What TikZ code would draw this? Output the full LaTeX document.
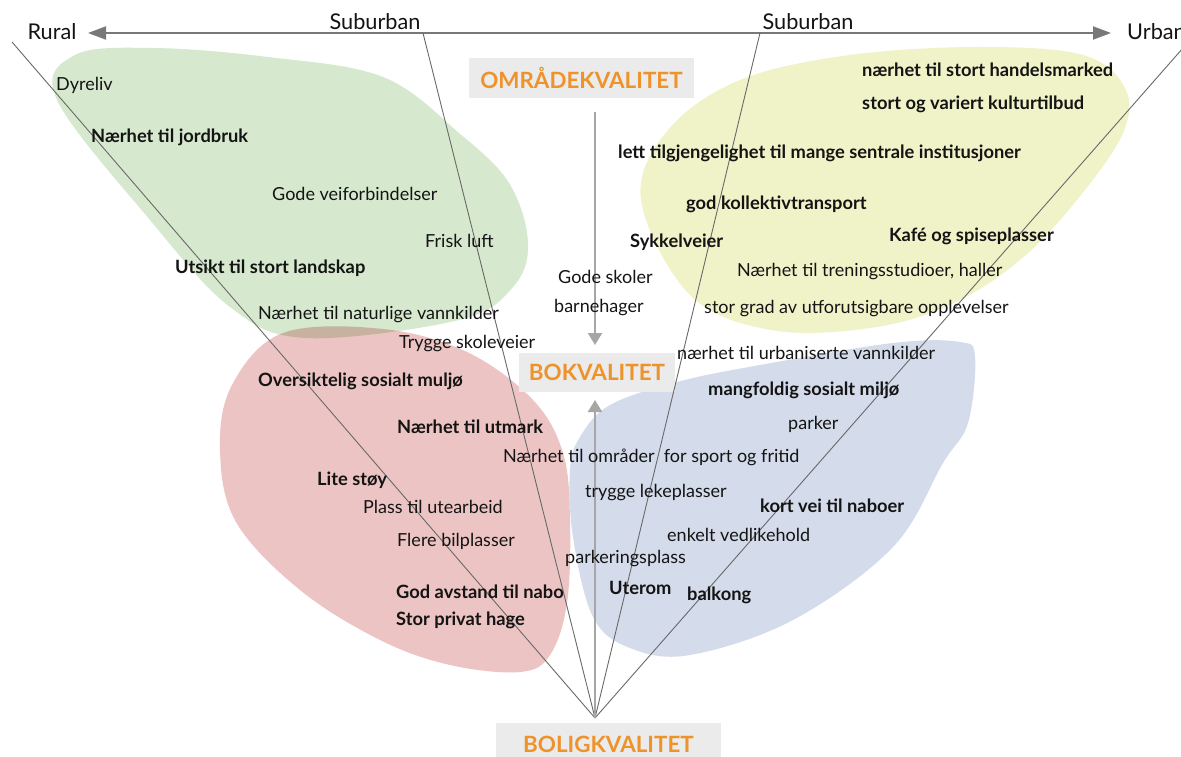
\documentclass[tikz,border=0pt]{standalone}
\usepackage{fontspec}
\setmainfont{Lato}
\usetikzlibrary{arrows.meta}
\definecolor{gblob}{RGB}{214,232,206}
\definecolor{yblob}{RGB}{240,243,200}
\definecolor{rblob}{RGB}{237,196,196}
\definecolor{bblob}{RGB}{212,219,234}
\definecolor{orangetxt}{RGB}{238,146,42}
\definecolor{boxgray}{RGB}{235,235,235}
\definecolor{txt}{RGB}{20,20,20}
\tikzset{
  lbl/.style={anchor=west, inner sep=0pt, text=txt, font=\fontsize{18}{21}\selectfont},
  blbl/.style={lbl, font=\fontsize{18.3}{21}\selectfont\bfseries},
  axlbl/.style={inner sep=0pt, text=txt, font=\fontsize{21.7}{24}\selectfont},
  headbox/.style={fill=boxgray, text=orangetxt, inner sep=0pt, font=\fontsize{22.4}{24}\selectfont\bfseries},
  thinline/.style={draw={rgb,255:red,105;green,105;blue,105}, line width=0.9pt},
  axisline/.style={draw={rgb,255:red,120;green,120;blue,120}, line width=2pt, {Triangle[length=18pt,width=13pt]}-{Triangle[length=18pt,width=13pt]}},
  grayarrow/.style={draw={rgb,255:red,166;green,166;blue,166}, line width=2pt, -{Triangle[length=12pt,width=14pt]}}
}
\begin{document}
\begin{tikzpicture}[x=1pt,y=-1pt]
\useasboundingbox (0,0) rectangle (1181,757);
\clip (0,0) rectangle (1181,757);
\fill[white] (0,0) rectangle (1181,757);
% blobs
\begin{scope}[blend mode=multiply]
\fill[gblob] plot[smooth cycle, tension=0.6] coordinates {(57,100) (75,55) (153,48) (268,57) (383,77) (459,133) (509,183) (528,243) (513,287) (459,320) (306,338) (230,307) (150,220)};
\fill[yblob] plot[smooth cycle, tension=0.6] coordinates {(641,200) (668,130) (740,80) (850,55) (980,47) (1083,55) (1125,88) (1123,133) (1077,200) (1020,260) (950,305) (870,328) (771,330) (690,295)};
\fill[rblob] plot[smooth cycle, tension=0.6] coordinates {(283,333) (383,329) (467,352) (533,400) (563,453) (570,520) (567,603) (550,655) (520,672) (450,665) (380,640) (300,590) (236,522) (220,450) (232,385)};
\fill[bblob] plot[smooth cycle, tension=0.6] coordinates {(580,437) (610,405) (677,382) (760,365) (893,343) (960,342) (975,357) (968,423) (943,463) (893,547) (793,620) (690,655) (630,648) (593,617) (573,537) (570,470)};
\end{scope}
% boxes
\node[headbox, minimum width=225pt, minimum height=40pt] (omr) at (581.5,78) {OMRÅDEKVALITET};
\node[headbox, minimum width=156pt, minimum height=39pt] (bok) at (597,372.5) {BOKVALITET};
\node[headbox, minimum width=225pt, minimum height=42pt] (bolig) at (608.5,744) {BOLIGKVALITET};
% axis
\node[axlbl] (rural) at (52,32) {Rural};
\node[axlbl, anchor=west] (urban) at (1127,32) {Urban};
\node[axlbl] (sub1) at (375,22) {Suburban};
\node[axlbl] (sub2) at (808,22) {Suburban};
\coordinate (axL) at (88,33);
\coordinate (axR) at (1111,33);
\draw[axisline] (axR) -- (axL);
% fan lines
\coordinate (apex) at (595,718);
\coordinate (endR) at (12,42);
\coordinate (endS1) at (423,33);
\coordinate (endS2) at (760,33);
\coordinate (endU) at (1190,40);
\draw[thinline] (apex) -- (endR);
\draw[thinline] (apex) -- (endS1);
\draw[thinline] (apex) -- (endS2);
\draw[thinline] (apex) -- (endU);
% vertical arrows
\coordinate (omrStart) at (595,112);
\coordinate (bokTop) at (595,345);
\coordinate (bokBot) at (595,400);
\draw[grayarrow] (omrStart) -- (bokTop);
\draw[grayarrow] (apex) -- (bokBot);
% green labels
\node[lbl] (t1) at (56,85) {Dyreliv};
\node[blbl] (t2) at (91,137) {Nærhet til jordbruk};
\node[lbl] (t3) at (272,194) {Gode veiforbindelser};
\node[lbl] (t4) at (425,241) {Frisk luft};
\node[blbl] (t5) at (175,268) {Utsikt til stort landskap};
\node[lbl] (t6) at (258,315) {Nærhet til naturlige vannkilder};
\node[lbl] (t7) at (399,344) {Trygge skoleveier};
\node[blbl] (t8) at (258,381) {Oversiktelig sosialt muljø};
% centre
\node[lbl] (t9) at (558,277) {Gode skoler};
\node[lbl] (t10) at (554,308) {barnehager};
% red
\node[blbl] (t11) at (397,427) {Nærhet til utmark};
\node[lbl] (t12) at (503,457) {Nærhet til områder\ \ for sport og fritid};
\node[blbl] (t13) at (317,480) {Lite støy};
\node[lbl] (t14) at (363,507) {Plass til utearbeid};
\node[lbl] (t15) at (397,541) {Flere bilplasser};
\node[blbl] (t16) at (396,592) {God avstand til nabo};
\node[blbl] (t17) at (396,620) {Stor privat hage};
% blue
\node[lbl] (t18) at (677,353) {nærhet til urbaniserte vannkilder};
\node[blbl] (t19) at (708,390) {mangfoldig sosialt miljø};
\node[lbl] (t20) at (788,424) {parker};
\node[lbl] (t21) at (585,493) {trygge lekeplasser};
\node[blbl] (t22) at (760,506) {kort vei til naboer};
\node[lbl] (t23) at (667,535) {enkelt vedlikehold};
\node[lbl] (t24) at (565,559) {parkeringsplass};
\node[blbl] (t25) at (609,588) {Uterom};
\node[blbl] (t26) at (687,595) {balkong};
% yellow
\node[blbl] (t27) at (862,70) {nærhet til stort handelsmarked};
\node[blbl] (t28) at (862,104) {stort og variert kulturtilbud};
\node[blbl] (t29) at (618,153) {lett tilgjengelighet til mange sentrale institusjoner};
\node[blbl] (t30) at (686,204) {god kollektivtransport};
\node[blbl] (t31) at (889,236) {Kafé og spiseplasser};
\node[blbl] (t32) at (630,242) {Sykkelveier};
\node[lbl] (t33) at (737,272) {Nærhet til treningsstudioer, haller};
\node[lbl] (t34) at (704,309) {stor grad av utforutsigbare opplevelser};
\end{tikzpicture}
\end{document}
